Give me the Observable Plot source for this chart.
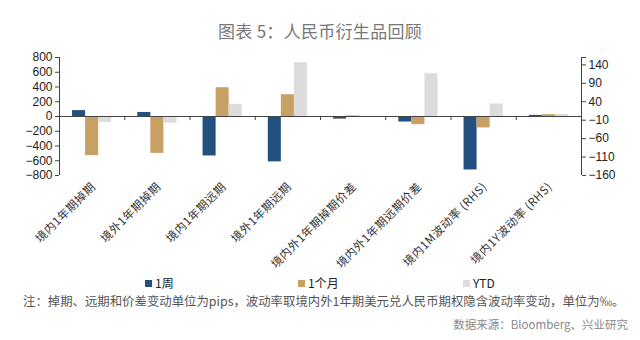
<!DOCTYPE html>
<html><head><meta charset="utf-8">
<script src="https://cdn.jsdelivr.net/npm/d3@7"></script>
<script src="https://cdn.jsdelivr.net/npm/@observablehq/plot@0.6"></script>
<style>
body{margin:0;background:#fff;font-family:"Noto Sans CJK SC","Noto Sans",sans-serif;}
#wrap{position:relative;width:640px;height:340px;overflow:hidden;background:#fff}
#title{position:absolute;left:0;top:19px;width:640px;text-align:center;font-size:17px;color:#777;line-height:24px;letter-spacing:0.3px}
#chart{position:absolute;left:0;top:46px}
.leg{position:absolute;top:276px;font-size:12px;color:#222;line-height:14px;white-space:nowrap}
.sw{display:inline-block;width:7px;height:7px;margin-right:3px;vertical-align:1px}
#note{position:absolute;left:23px;top:292px;font-size:12.4px;color:#555;line-height:18px;white-space:nowrap}
#src{position:absolute;right:12px;top:316px;font-size:11.5px;color:#888;line-height:16px;white-space:nowrap}
</style></head>
<body><div id="wrap">
<div id="title">图表 5：人民币衍生品回顾</div>
<div id="chart"></div>
<div id="legend"></div>
<div id="note">注：掉期、远期和价差变动单位为pips，波动率取境内外1年期美元兑人民币期权隐含波动率变动，单位为‰。</div>
<div id="src">数据来源：Bloomberg、兴业研究</div>
</div>
<script>
const categories = ["境内1年期掉期","境外1年期掉期","境内1年期远期","境外1年期远期","境内外1年期掉期价差","境内外1年期远期价差","境内1M波动率 (RHS)","境内1Y波动率 (RHS)"];
const rhs = [false,false,false,false,false,false,true,true];
const seriesNames = ["1周","1个月","YTD"];
const week  = [80, 55, -535, -615, -35, -75, -145, 3];
const month = [-530, -500, 390, 295, 8, -110, -31, 5];
const ytd   = [-80, -90, 165, 730, 0, 580, 34, 6];
const colors = ["#22507f","#c8a064","#dcdcdc"];
const leftTicks = [-800,-600,-400,-200,0,200,400,600,800];
const rightTicks = [-160,-110,-60,-10,40,90,140,160];
const RATIO = 800/160;

const seriesVals = [week, month, ytd];
const rows = [];
categories.forEach((c,i)=>{
  seriesNames.forEach((s,k)=>{
    const v = seriesVals[k][i];
    rows.push({cat:c, i, k, series:s, value:v, v: rhs[i] ? v*RATIO : v});
  });
});
const groupStart = 0.2, barW = 0.2;

const plot = Plot.plot({
  width: 640, height: 234,
  marginLeft: 59, marginRight: 59, marginTop: 11, marginBottom: 105,
  x: {type:"linear", domain:[0, categories.length], axis: null},
  y: {type:"linear", domain:[-800,800], axis: null, label: null},
  color: {domain: seriesNames, range: colors},
  style: {fontFamily: "'Liberation Sans', Arial, sans-serif", fontSize: "12px", color:"#222", overflow:"visible"},
  marks: [
    Plot.rectY(rows, {x1: d=>d.i+groupStart+d.k*barW, x2: d=>d.i+groupStart+(d.k+1)*barW, y: "v", fill: "series"}),
    Plot.ruleY([0], {stroke:"#444", strokeWidth:1}),
    Plot.ruleX(d3.range(0, categories.length+1), {x: d=>d, y1: 0, y2: -55, stroke:"#444"}),
    Plot.ruleX([0], {stroke:"#444"}),
    Plot.ruleX([categories.length], {stroke:"#444"}),
    Plot.axisY(leftTicks, {anchor:"left", tickSize:4, tickPadding:3, fontSize:12, stroke:"#444", label:null}),
    Plot.axisY(rightTicks.map(v=>v*RATIO), {anchor:"right", tickSize:4, tickPadding:3, fontSize:12, stroke:"#444", label:null,
      tickFormat: d => { const v = Math.round(d/RATIO); if (v === 160) return ""; return v < 0 ? "−" + (-v) : String(v); }}),
    Plot.text(categories, {x: (d,i)=>i+0.5, frameAnchor:"bottom", text: d=>d, rotate:-45, textAnchor:"end",
      dy: 12, dx: 4, fontSize: 11.5, fill:"#333", fontFamily:"'Noto Sans CJK SC', sans-serif"})
  ]
});
document.getElementById("chart").appendChild(plot);
plot.querySelectorAll("g[aria-label='text'] text").forEach(t => t.style.letterSpacing = "0.5px");

const legPos = [145, 298, 463];
const leg = document.getElementById("legend");
seriesNames.forEach((s,k)=>{
  const d = document.createElement("div");
  d.className = "leg";
  d.style.left = legPos[k] + "px";
  d.innerHTML = `<span class="sw" style="background:${colors[k]}"></span>${s}`;
  leg.appendChild(d);
});
</script>
</body></html>
